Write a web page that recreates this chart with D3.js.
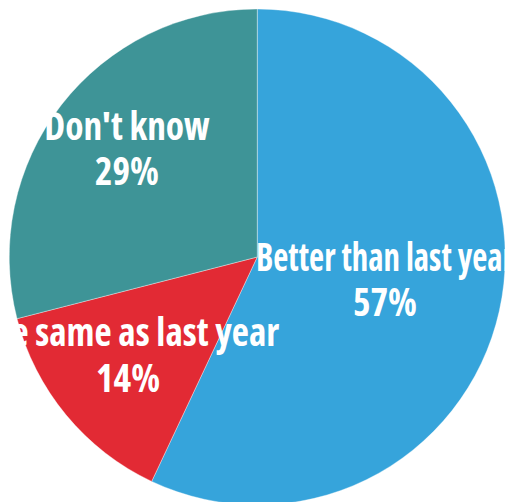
<!DOCTYPE html>
<html>
<head>
<meta charset="utf-8">
<script src="https://cdn.jsdelivr.net/npm/d3@7"></script>
<style>
  html, body { margin: 0; padding: 0; background: #ffffff; }
  svg { display: block; }
  .slice-label { font-family: "Open Sans", "Roboto", sans-serif; font-stretch: 75%; font-weight: bold; fill: #ffffff; }
</style>
</head>
<body>
<div id="chart"></div>
<script>
// Survey answers and their shares (percent)
const categories = ["Better than last year", "The same as last year", "Don't know"];
const shares = [57, 14, 29];
const colors = ["#36a4db", "#e22a34", "#3e9497"];

// Layout
const width = 507, height = 502;
const cx = 257.25, cy = 257, radius = 248;
const fontSize = 39, lineGap = 45.5;
const fitWord = "same as last year", fitWidth = 244; // condensed lettering width
// Set widths for lines whose condensed face runs narrower than the general squeeze
const lineWidthOverride = { "Better than last year": 258 };
// Hand-tuned label nudges from the label-arc centroid
const labelNudge = {
  "Better than last year": [-17.5, 4.1],
  "The same as last year": [-14.6, 17.2],
  "Don't know": [-12.7, -3.1]
};

const data = categories.map((c, i) => ({ category: c, value: shares[i], color: colors[i] }));

const svg = d3.select("#chart").append("svg")
  .attr("width", width)
  .attr("height", height);

const g = svg.append("g").attr("transform", `translate(${cx},${cy})`);

const pie = d3.pie().value(d => d.value).sort(null);
const arc = d3.arc().innerRadius(0).outerRadius(radius);
const labelArc = d3.arc().innerRadius(radius * 0.6).outerRadius(radius * 0.6);

// Each slice is drawn together with its label, so later slices sit on top of earlier labels
const slices = g.selectAll("g.slice")
  .data(pie(data))
  .join("g")
  .attr("class", "slice");

slices.append("path")
  .attr("d", arc)
  .attr("fill", d => d.data.color)
  .attr("stroke", "#ffffff")
  .attr("stroke-width", 0.6)
  .attr("stroke-opacity", 0.6);

const labels = slices.append("g")
  .attr("class", "label")
  .attr("transform", d => {
    const [x, y] = labelArc.centroid(d);
    const [nx, ny] = labelNudge[d.data.category];
    return `translate(${x + nx},${y + ny})`;
  });

labels.append("text")
  .attr("class", "slice-label line1")
  .attr("text-anchor", "middle")
  .attr("font-size", fontSize)
  .attr("y", -lineGap / 2)
  .text(d => d.data.category);

labels.append("text")
  .attr("class", "slice-label line2")
  .attr("text-anchor", "middle")
  .attr("font-size", fontSize)
  .attr("y", lineGap / 2)
  .text(d => `${d.data.value}%`);

// Narrow the lettering so one reference phrase spans its set width
const probe = svg.append("text")
  .attr("class", "slice-label")
  .attr("font-size", fontSize)
  .text(fitWord);
const squeeze = fitWidth / probe.node().getComputedTextLength();
probe.remove();

labels.selectAll("text").each(function(d) {
  const natural = this.getComputedTextLength();
  const isFirst = this.classList.contains("line1");
  const override = isFirst ? lineWidthOverride[d.data.category] : undefined;
  d3.select(this)
    .attr("textLength", override !== undefined ? override : natural * squeeze)
    .attr("lengthAdjust", "spacingAndGlyphs");
});
</script>
</body>
</html>
